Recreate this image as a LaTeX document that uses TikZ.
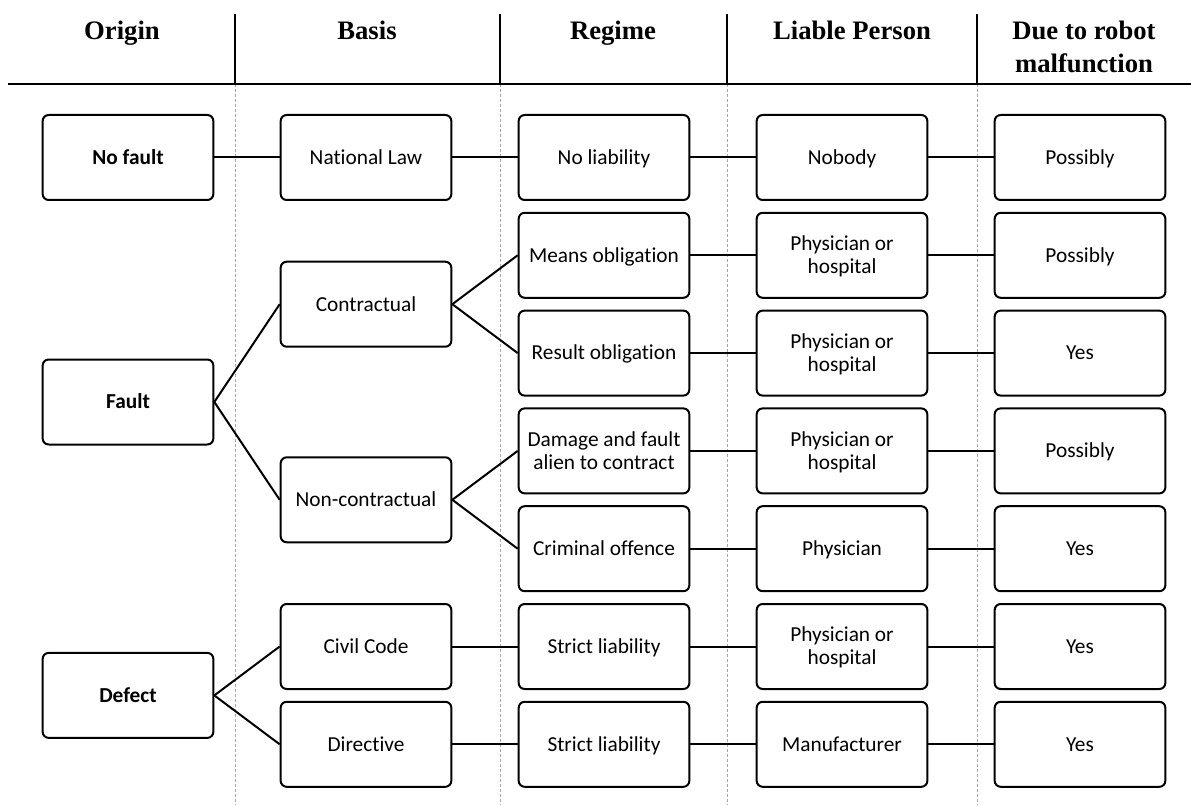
\documentclass[tikz,border=0pt]{standalone}
\usepackage{fontspec}
\setmainfont{Carlito}[Ligatures={NoCommon}]
\newfontfamily\hdrfont{Liberation Serif}
\newcommand\sst{\rule[-2.8pt]{0pt}{15.8pt}}
\begin{document}
\begin{tikzpicture}[x=0.75pt,y=-0.75pt,
  box/.style={draw, line width=1.5pt, rounded corners=4.5pt, minimum width=128pt, minimum height=63.75pt, inner sep=0pt, align=center, font=\fontsize{16}{17.5}\selectfont},
  bbox/.style={box, font=\fontsize{16}{17.5}\selectfont\bfseries},
  hdr/.style={font=\hdrfont\fontsize{20}{25}\selectfont\bfseries, align=center, anchor=base, inner sep=0pt},
  conn/.style={line width=1.5pt},
  rule/.style={line width=1.4pt},
  sep/.style={draw=gray!70, line width=0.75pt, dash pattern=on 2.25pt off 1.5pt}]
\useasboundingbox (0,0) rectangle (1191,805);
% header rules
\foreach \x in {235,500,727,977}{
  \draw[rule] (\x,14) -- (\x,84);
  \draw[sep] (\x,84) -- (\x,805);
}
\draw[rule] (8,84) -- (1191,84);
% headers
\node[hdr] (h1) at (122,39.3) {Origin};
\node[hdr] (h2) at (367,39.3) {Basis};
\node[hdr] (h3) at (613,39.3) {Regime};
\node[hdr] (h4) at (852,39.3) {Liable Person};
\node[hdr] (h5) at (1084,72.7) {Due to robot\\malfunction};
% column 1
\node[bbox] (nofault) at (128,157.5) {\sst No fault};
\node[bbox] (fault) at (128,402) {\sst Fault};
\node[bbox] (defect) at (128,695.4) {\sst Defect};
% column 2
\node[box] (natlaw) at (366,157.5) {\sst National Law};
\node[box] (contr) at (366,304.2) {\sst Contractual};
\node[box] (noncontr) at (366,499.8) {\sst Non-contractual};
\node[box] (civil) at (366,646.5) {\sst Civil Code};
\node[box] (direct) at (366,744.3) {\sst Directive};
% column 3
\node[box] (r0) at (604,157.5) {\sst No liability};
\node[box] (r1) at (604,255.3) {\sst Means obligation};
\node[box] (r2) at (604,353.1) {\sst Result obligation};
\node[box] (r3) at (604,450.9) {\sst Damage and fault\\\sst alien to contract};
\node[box] (r4) at (604,548.7) {\sst Criminal offence};
\node[box] (r5) at (604,646.5) {\sst Strict liability};
\node[box] (r6) at (604,744.3) {\sst Strict liability};
% column 4
\node[box] (p0) at (842,157.5) {\sst Nobody};
\node[box] (p1) at (842,255.3) {\sst Physician or\\\sst hospital};
\node[box] (p2) at (842,353.1) {\sst Physician or\\\sst hospital};
\node[box] (p3) at (842,450.9) {\sst Physician or\\\sst hospital};
\node[box] (p4) at (842,548.7) {\sst Physician};
\node[box] (p5) at (842,646.5) {\sst Physician or\\\sst hospital};
\node[box] (p6) at (842,744.3) {\sst Manufacturer};
% column 5
\node[box] (d0) at (1080,157.5) {\sst Possibly};
\node[box] (d1) at (1080,255.3) {\sst Possibly};
\node[box] (d2) at (1080,353.1) {\sst Yes};
\node[box] (d3) at (1080,450.9) {\sst Possibly};
\node[box] (d4) at (1080,548.7) {\sst Yes};
\node[box] (d5) at (1080,646.5) {\sst Yes};
\node[box] (d6) at (1080,744.3) {\sst Yes};
% connectors
\draw[conn] (nofault.east) -- (natlaw.west);
\draw[conn] (natlaw.east) -- (r0.west);
\draw[conn] (fault.east) -- (contr.west);
\draw[conn] (fault.east) -- (noncontr.west);
\draw[conn] (contr.east) -- (r1.west);
\draw[conn] (contr.east) -- (r2.west);
\draw[conn] (noncontr.east) -- (r3.west);
\draw[conn] (noncontr.east) -- (r4.west);
\draw[conn] (defect.east) -- (civil.west);
\draw[conn] (defect.east) -- (direct.west);
\draw[conn] (civil.east) -- (r5.west);
\draw[conn] (direct.east) -- (r6.west);
\foreach \i in {0,...,6}{
  \draw[conn] (r\i.east) -- (p\i.west);
  \draw[conn] (p\i.east) -- (d\i.west);
}
\end{tikzpicture}
\end{document}
